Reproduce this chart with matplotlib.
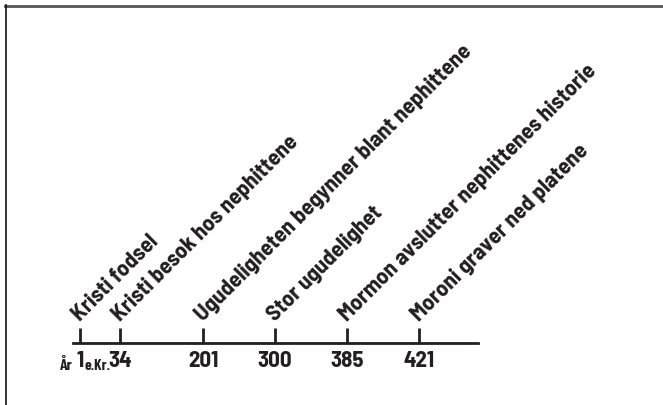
import matplotlib
matplotlib.use('Agg')
import matplotlib.pyplot as plt
from matplotlib.lines import Line2D

# timeline data
years = ['1', '34', '201', '300', '385', '421']
events = ['Kristi fodsel',
          'Kristi besok hos nephittene',
          'Ugudeligheten begynner blant nephittene',
          'Stor ugudelighet',
          'Mormon avslutter nephittenes historie',
          'Moroni graver ned platene']

# layout: where each year sits along the line (not to scale)
tick_pos = [80, 120, 203, 275, 347, 419]

FONT = ['Barlow Semi Condensed', 'Barlow Condensed', 'DejaVu Sans']
SMALL = ['Barlow Condensed', 'DejaVu Sans']
INK = '#231f20'

W, H = 663, 405
fig = plt.figure(figsize=(W / 100, H / 100), dpi=100)

ax = fig.add_axes([73 / W, (H - 343) / H, (478 - 73) / W, 0.5])
ax.set_xlim(73, 478)
ax.set_ylim(0, 1)
for s in ['top', 'left', 'right']:
    ax.spines[s].set_visible(False)
ax.spines['bottom'].set_linewidth(2)
ax.spines['bottom'].set_color(INK)
ax.set_yticks([])
ax.patch.set_alpha(0)

ax.set_xticks(tick_pos)
ax.set_xticklabels(years, fontfamily=FONT, fontweight='bold', fontsize=16.5, color=INK)
ax.tick_params(axis='x', direction='in', length=11, width=2, color=INK, pad=6)

# small "År" and "e.Kr." around the first year
ax.annotate('År', xy=(tick_pos[0], 0), xytext=(-5, -19.5), textcoords='offset points',
            ha='right', va='baseline', fontfamily=SMALL, fontweight='bold', fontsize=11.5, color=INK,
            annotation_clip=False)
ax.annotate('e.Kr.', xy=(tick_pos[0], 0), xytext=(3.5, -19.5), textcoords='offset points',
            ha='left', va='baseline', fontfamily=SMALL, fontweight='bold', fontsize=11, color=INK,
            annotation_clip=False)

# event labels, slanted up from each tick
for x, label in zip(tick_pos, events):
    ax.annotate(label, xy=(x, 0), xytext=(0, 15), textcoords='offset points',
                rotation=45, rotation_mode='anchor', ha='left', va='baseline',
                fontfamily=FONT, fontweight='bold', fontsize=16.5, color=INK,
                annotation_clip=False)

# frame lines top and left
fig.add_artist(Line2D([5 / W, 1], [1 - 5.5 / H, 1 - 5.5 / H], color='#555555', lw=2))
fig.add_artist(Line2D([5.5 / W, 5.5 / W], [0, 1 - 5 / H], color='#111111', lw=1.2))

fig.savefig('out.png', dpi=100)
